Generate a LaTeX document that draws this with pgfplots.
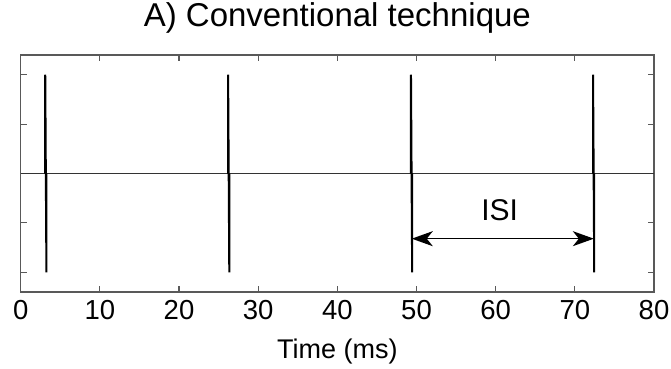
\documentclass[border=0pt]{standalone}
\usepackage{fontspec}
\setmainfont{Liberation Sans}
\usepackage{pgfplots}
\pgfplotsset{compat=1.18}
\usetikzlibrary{arrows.meta}

\begin{document}
\begin{tikzpicture}
\begin{axis}[
  scale only axis,
  width=633.3bp, height=237bp,
  xmin=0, xmax=80, ymin=-1.2, ymax=1.2,
  xtick={0,10,...,80},
  ytick={-1,-0.5,0,0.5,1},
  yticklabels={},
  tick align=inside,
  xtick pos=both, ytick pos=both,
  major tick length=6bp,
  axis line style={black!65, line width=1.2bp},
  every tick/.style={black!65, line width=1.1bp},
  /pgf/number format/assume math mode=true,
  tick label style={font=\fontsize{27.5bp}{30bp}\selectfont, black},
  xticklabel style={yshift=-5bp},
  xlabel={Time (ms)},
  xlabel style={at={(0.5,0)}, anchor=base, yshift=-66bp,
                font=\fontsize{27bp}{30bp}\selectfont},
  title={A) Conventional technique},
  title style={at={(0.5,1)}, anchor=base, yshift=23bp,
               font=\fontsize{33bp}{36bp}\selectfont},
  unbounded coords=jump,
  clip=false,
]
  % resting baseline
  \addplot[black!80, line width=1bp] coordinates {(0,0) (80,0)};
  % biphasic stimulus pulses
  \addplot[black, line width=2bp] coordinates {
    (3.10,0) (3.10,1) (3.25,-1) (3.25,0) (nan,nan)
    (26.20,0) (26.20,1) (26.35,-1) (26.35,0) (nan,nan)
    (49.30,0) (49.30,1) (49.45,-1) (49.45,0) (nan,nan)
    (72.30,0) (72.30,1) (72.45,-1) (72.45,0)
  };
  % inter-stimulus interval annotation
  \draw[line width=1.4bp,
        {Stealth[length=21bp,width=15bp,inset=6bp]}-{Stealth[length=21bp,width=15bp,inset=6bp]}]
    (axis cs:49.4,-0.66) -- (axis cs:72.4,-0.66);
  \node[anchor=base, font=\fontsize{30bp}{33bp}\selectfont, inner sep=0pt]
    at (axis cs:60.5,-0.48) {ISI};
  \coordinate (sw) at (rel axis cs:0,0);
  \coordinate (ne) at (rel axis cs:1,1);
\end{axis}
\pgfresetboundingbox
\path ([xshift=-20.7bp,yshift=-76bp]sw) rectangle ([xshift=17bp,yshift=55bp]ne);
\end{tikzpicture}
\end{document}
